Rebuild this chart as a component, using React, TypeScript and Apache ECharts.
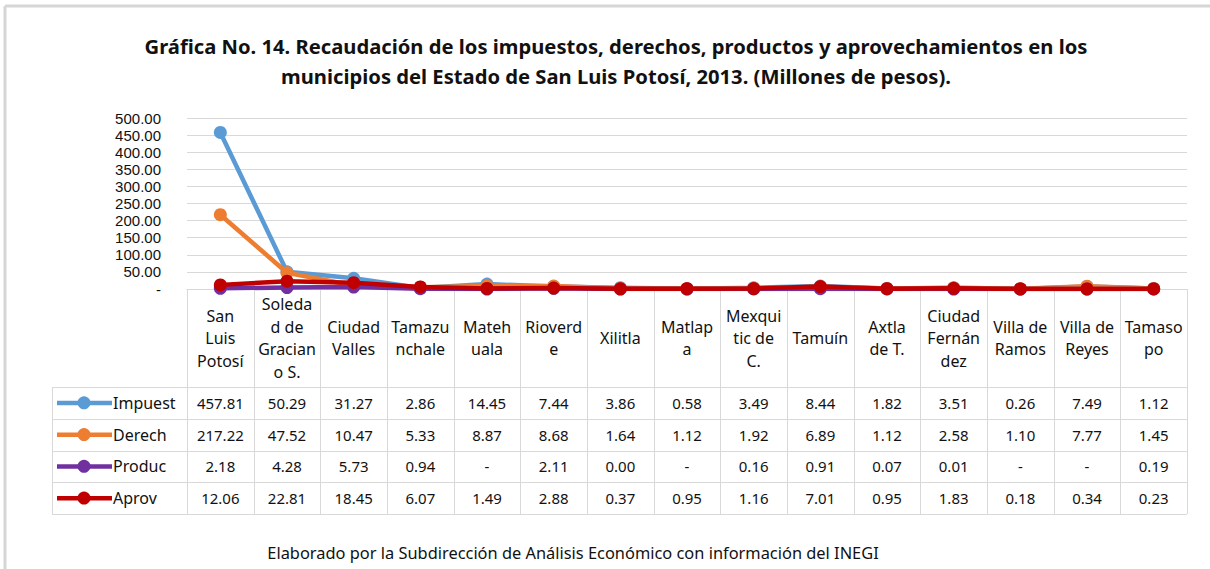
import React, { useEffect, useRef } from "react";
import * as echarts from "echarts";

const categories = [
  "San Luis Potosí", "Soledad de Graciano S.", "Ciudad Valles", "Tamazunchale", "Matehuala",
  "Rioverde", "Xilitla", "Matlapa", "Mexquitic de C.", "Tamuín", "Axtla de T.",
  "Ciudad Fernández", "Villa de Ramos", "Villa de Reyes", "Tamasopo",
];
const headerLabels = [
  "San\nLuis\nPotosí", "Soleda\nd de\nGracian\no S.", "Ciudad\nValles", "Tamazu\nnchale", "Mateh\nuala",
  "Rioverd\ne", "Xilitla", "Matlap\na", "Mexqui\ntic de\nC.", "Tamuín", "Axtla\nde T.",
  "Ciudad\nFernán\ndez", "Villa de\nRamos", "Villa de\nReyes", "Tamaso\npo",
];
const impuestos = [457.81, 50.29, 31.27, 2.86, 14.45, 7.44, 3.86, 0.58, 3.49, 8.44, 1.82, 3.51, 0.26, 7.49, 1.12];
const derechos = [217.22, 47.52, 10.47, 5.33, 8.87, 8.68, 1.64, 1.12, 1.92, 6.89, 1.12, 2.58, 1.10, 7.77, 1.45];
const productos = [2.18, 4.28, 5.73, 0.94, 0, 2.11, 0.001, 0, 0.16, 0.91, 0.07, 0.01, 0, 0, 0.19];
const aprovechamientos = [12.06, 22.81, 18.45, 6.07, 1.49, 2.88, 0.37, 0.95, 1.16, 7.01, 0.95, 1.83, 0.18, 0.34, 0.23];
const seriesNames = ["Impuestos", "Derechos", "Productos", "Aprovechamientos"];
const seriesShort = ["Impuest", "Derech", "Produc", "Aprov"];
const seriesColors = ["#5b9bd5", "#ed7d31", "#7030a0", "#c00000"];
const yTicks = { min: 0, max: 500, interval: 50 };

const FONT = "'Noto Sans', 'Open Sans', sans-serif";
const YFONT = "'Liberation Sans', Arial, sans-serif";
const fmt = (v: number) => (v === 0 ? "-" : v.toFixed(2));

export default function App() {
  const ref = useRef<HTMLDivElement>(null);
  useEffect(() => {
    if (!ref.current) return;
    const chart = echarts.init(ref.current, undefined, { renderer: "svg" });
    const allData = [impuestos, derechos, productos, aprovechamientos];
    const gridLeft = 187;
    const gridRight = 23;
    const gridTop = 118;
    const gridHeight = 171;
    chart.setOption({
      animation: false,
      backgroundColor: "#ffffff",
      title: {
        text: "Gráfica No. 14. Recaudación de los impuestos, derechos, productos y aprovechamientos en los\nmunicipios del Estado de San Luis Potosí, 2013. (Millones de pesos).",
        left: 611,
        textAlign: "center",
        top: 26,
        textStyle: { fontFamily: FONT, fontSize: 20.2, fontWeight: "bold", color: "#111", lineHeight: 30 },
      },
      grid: { left: gridLeft, right: gridRight, top: gridTop, height: gridHeight },
      xAxis: {
        type: "category",
        data: categories,
        boundaryGap: true,
        axisLine: { show: true, lineStyle: { color: "#d9d9d9", width: 1 } },
        axisTick: { show: false },
        axisLabel: {
          interval: 0,
          margin: 49,
          verticalAlign: "middle",
          lineHeight: 22.5,
          fontSize: 16,
          fontFamily: FONT,
          color: "#111",
          formatter: (_v: string, i: number) => headerLabels[i],
        },
      },
      yAxis: {
        type: "value",
        min: yTicks.min,
        max: yTicks.max,
        interval: yTicks.interval,
        axisLine: { show: false },
        axisTick: { show: false },
        axisLabel: {
          margin: 26,
          fontSize: 15,
          lineHeight: 15,
          fontFamily: YFONT,
          color: "#111",
          formatter: (v: number) => fmt(v),
        },
        splitLine: { lineStyle: { color: "#d9d9d9", width: 1 } },
      },
      series: allData.map((d, k) => ({
        name: seriesNames[k],
        type: "line",
        data: d,
        symbol: "circle",
        symbolSize: 13,
        lineStyle: { width: 4.5, color: seriesColors[k] },
        itemStyle: { color: seriesColors[k] },
        z: 2 + k,
      })),
    });

    // Data table drawn from the axis scale
    const c0 = chart.convertToPixel({ xAxisIndex: 0 }, 0) as number;
    const c1 = chart.convertToPixel({ xAxisIndex: 0 }, 1) as number;
    const w = c1 - c0;
    const y0 = chart.convertToPixel({ yAxisIndex: 0 }, 0) as number;
    const headerH = 98;
    const rowH = 31.75;
    const tableLeft = 52;
    const rowsTop = y0 + headerH;
    const tableBottom = rowsTop + rowH * 4;
    const leftEdge = c0 - w / 2;
    const rightEdge = leftEdge + w * categories.length;
    const lineStyle = { stroke: "#d9d9d9", lineWidth: 1 };
    const els: any[] = [];
    // frame
    els.push({ type: "line", shape: { x1: 5, y1: 6, x2: 1210, y2: 6 }, style: { stroke: "#d6d6d6", lineWidth: 3 } });
    els.push({ type: "line", shape: { x1: 5, y1: 6, x2: 5, y2: 569 }, style: { stroke: "#d6d6d6", lineWidth: 3 } });
    for (let k = 0; k <= categories.length; k++) {
      const x = Math.round(leftEdge + k * w) + 0.5;
      els.push({ type: "line", shape: { x1: x, y1: y0, x2: x, y2: tableBottom }, style: lineStyle });
    }
    els.push({ type: "line", shape: { x1: tableLeft + 0.5, y1: rowsTop, x2: tableLeft + 0.5, y2: tableBottom }, style: lineStyle });
    for (let r = 0; r <= 4; r++) {
      const y = Math.round(rowsTop + r * rowH) + 0.5;
      els.push({ type: "line", shape: { x1: tableLeft, y1: y, x2: rightEdge, y2: y }, style: lineStyle });
    }
    allData.forEach((d, r) => {
      const yc = rowsTop + r * rowH + rowH / 2;
      els.push({ type: "line", shape: { x1: 57, y1: yc, x2: 112, y2: yc }, style: { stroke: seriesColors[r], lineWidth: 4.5 } });
      els.push({ type: "circle", shape: { cx: 84, cy: yc, r: 6.5 }, style: { fill: seriesColors[r] } });
      els.push({
        type: "text", x: 113, y: yc,
        style: { text: seriesShort[r], fontFamily: FONT, fontSize: 16, fill: "#111", verticalAlign: "middle", align: "left" },
      });
      d.forEach((v, i) => {
        const xc = chart.convertToPixel({ xAxisIndex: 0 }, i) as number;
        els.push({
          type: "text", x: xc, y: yc,
          style: { text: fmt(v), fontFamily: FONT, fontSize: 15, fill: "#111", verticalAlign: "middle", align: "center" },
        });
      });
    });
    els.push({
      type: "text", x: 573, y: 552,
      style: {
        text: "Elaborado por la Subdirección de Análisis Económico con información del INEGI",
        fontFamily: FONT, fontSize: 16.4, fill: "#111", verticalAlign: "middle", align: "center",
      },
    });
    chart.setOption({ graphic: els });
    return () => chart.dispose();
  }, []);
  return <div ref={ref} style={{ position: "fixed", left: 0, top: 0, width: 1210, height: 569 }} />;
}
